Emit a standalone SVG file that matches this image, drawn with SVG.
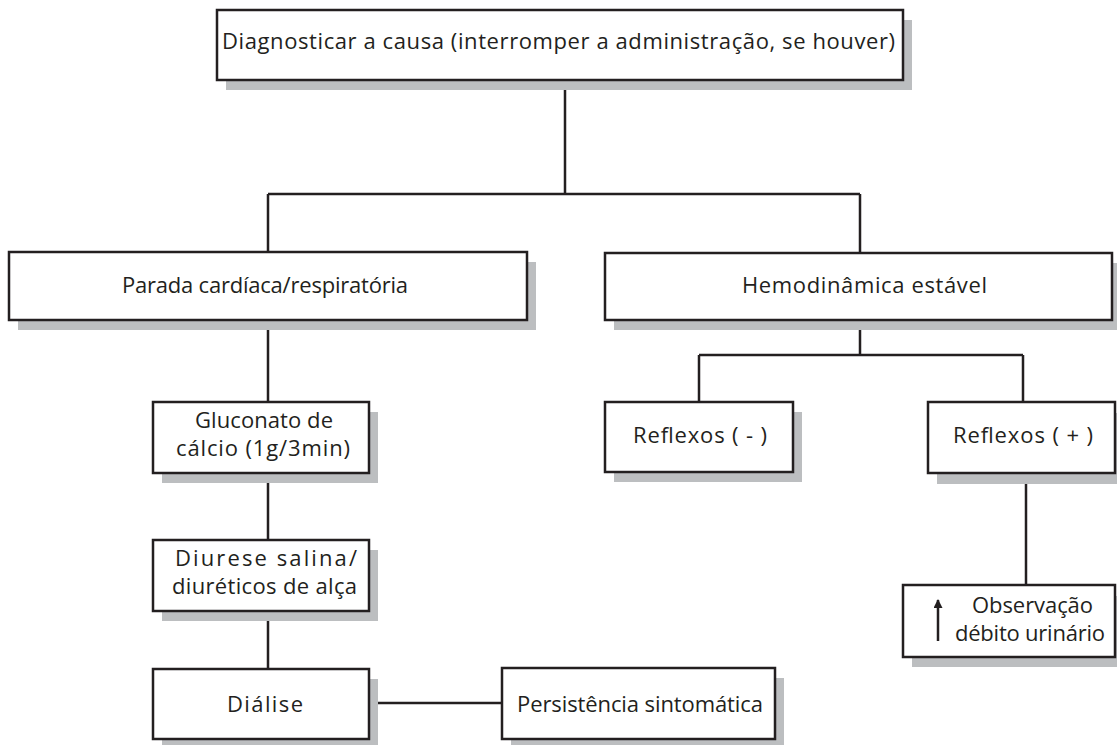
<svg xmlns="http://www.w3.org/2000/svg" width="1117" height="745" viewBox="0 0 1117 745">
<defs>
<marker id="ah" viewBox="0 0 10 10" refX="9" refY="5" markerWidth="10" markerHeight="9" markerUnits="userSpaceOnUse" orient="auto"><path d="M0,0 L10,5 L0,10 Z" fill="#231f20"/></marker>
</defs>
<style>
.box{fill:#fff;stroke:#231f20;stroke-width:2.5}
.sh{fill:#bcbec0}
.t{font-family:"Open Sans","Liberation Sans",sans-serif;font-size:22px;fill:#231f20}
.c{fill:none;stroke:#231f20;stroke-width:2.5}
</style>
<rect width="1117" height="745" fill="#fff"/>
<g id="connectors">
<path class="c" d="M565,80 V194 M268,194 H860 M268,194 V252 M860,194 V253"/>
<path class="c" d="M860,320 V355 M699,355 H1023 M699,355 V402 M1023,355 V402"/>
<path class="c" d="M1026,473 V585"/>
<path class="c" d="M268,320 V402 M268,473 V540 M268,611 V669 M369,703 H502"/>
</g>
<g id="n-diagnosticar">
<rect class="sh" x="226" y="20" width="686" height="70"/>
<rect class="box" x="217" y="10" width="686" height="70"/>
<text class="t" x="222" y="49" textLength="673" lengthAdjust="spacing">Diagnosticar a causa (interromper a administração, se houver)</text>
</g>
<g id="n-parada">
<rect class="sh" x="18" y="262" width="518" height="68"/>
<rect class="box" x="9" y="252" width="518" height="68"/>
<text class="t" x="122" y="293" textLength="286" lengthAdjust="spacing">Parada cardíaca/respiratória</text>
</g>
<g id="n-hemodinamica">
<rect class="sh" x="614" y="263" width="507" height="67"/>
<rect class="box" x="605" y="253" width="507" height="67"/>
<text class="t" x="742" y="293" textLength="245" lengthAdjust="spacing">Hemodinâmica estável</text>
</g>
<g id="n-reflexos-neg">
<rect class="sh" x="614" y="412" width="188" height="70"/>
<rect class="box" x="605" y="402" width="188" height="70"/>
<text class="t" x="633" y="443" textLength="134" lengthAdjust="spacing">Reflexos ( - )</text>
</g>
<g id="n-reflexos-pos">
<rect class="sh" x="937" y="413" width="190" height="71"/>
<rect class="box" x="928" y="402" width="187" height="71"/>
<text class="t" x="953" y="443" textLength="140" lengthAdjust="spacing">Reflexos ( + )</text>
</g>
<g id="n-observacao">
<rect class="sh" x="912" y="596" width="210" height="71"/>
<rect class="box" x="903" y="585" width="212" height="72"/>
<line class="c" x1="938" y1="641" x2="938" y2="600" stroke-width="2.2" marker-end="url(#ah)"/>
<text class="t" x="972" y="613" textLength="121" lengthAdjust="spacing">Observação</text>
<text class="t" x="955" y="641" textLength="150" lengthAdjust="spacing">débito urinário</text>
</g>
<g id="n-gluconato">
<rect class="sh" x="162" y="412" width="216" height="71"/>
<rect class="box" x="153" y="402" width="216" height="71"/>
<text class="t" x="195" y="428" textLength="138" lengthAdjust="spacing">Gluconato de</text>
<text class="t" x="176" y="456" textLength="174" lengthAdjust="spacing">cálcio (1g/3min)</text>
</g>
<g id="n-diurese">
<rect class="sh" x="162" y="550" width="216" height="71"/>
<rect class="box" x="153" y="540" width="216" height="71"/>
<text class="t" x="175" y="566" textLength="182" lengthAdjust="spacing">Diurese salina/</text>
<text class="t" x="172" y="594" textLength="185" lengthAdjust="spacing">diuréticos de alça</text>
</g>
<g id="n-dialise">
<rect class="sh" x="162" y="679" width="216" height="70"/>
<rect class="box" x="153" y="669" width="216" height="70"/>
<text class="t" x="227" y="712" textLength="76" lengthAdjust="spacing">Diálise</text>
</g>
<g id="n-persistencia">
<rect class="sh" x="511" y="678" width="273" height="71"/>
<rect class="box" x="502" y="668" width="273" height="71"/>
<text class="t" x="517" y="712" textLength="246" lengthAdjust="spacing">Persistência sintomática</text>
</g>
</svg>
